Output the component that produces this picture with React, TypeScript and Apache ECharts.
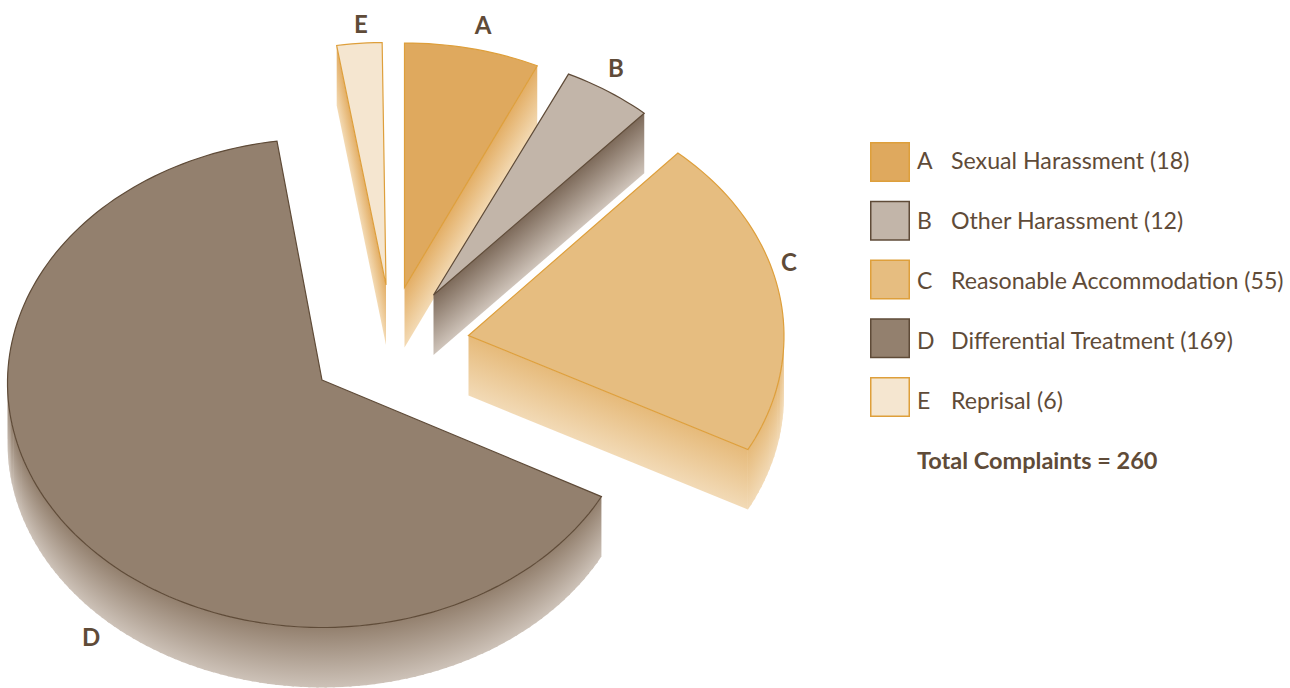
import React, { useEffect, useRef } from "react";
import * as echarts from "echarts";

const categories = ["Sexual Harassment", "Other Harassment", "Reasonable Accommodation", "Differential Treatment", "Reprisal"];
const letters = ["A", "B", "C", "D", "E"];
const values = [18, 12, 55, 169, 6];

const topColors = ["#DFA95E", "#C2B5A9", "#E6BD80", "#93806E", "#F5E6D0"];
const strokeColors = ["#DE9F3B", "#5F4B38", "#DE9F3B", "#5F4B38", "#DE9F3B"];
const wallStart = ["#E3AE65", "#7D6A5A", "#E6BA7A", "#93806E", "#E3AE65"];
const wallEnd = ["#F3DAB4", "#CFC4BA", "#F2DAB6", "#CDC2B8", "#F3DAB4"];
const sliceApexes = [[404.5, 287.5], [433.5, 295], [468.5, 335.5], [322, 380], [386, 285]];
const rimCentres = [[404.5, 287.5], [433.5, 295], [469, 336], [322.5, 383], [386, 287]];
const rimRotation = [0, 0.45, 0, 0, -0.7];
const labelPositions = [[483, 24], [616, 67], [789, 261], [91, 636], [361, 23]];

const TEXT = "#5F4B38";
const FONT = "Lato";
const RX = 315;
const RY = 244.5;
const DEPTH = 60;
const START_DEG = 0;
const total = values.reduce((a, b) => a + b, 0);

function rim(cx: number, cy: number, deg: number): number[] {
  const t = (deg * Math.PI) / 180;
  return [cx + RX * Math.sin(t), cy - RY * Math.cos(t)];
}

function wallPiece(a: number[], b: number[], from: string, to: string, next?: number[]) {
  const dx = b[0] - a[0];
  const dy = b[1] - a[1];
  const len = Math.hypot(dx, dy) || 1;
  let nx = -dy / len;
  let ny = dx / len;
  if (ny < 0) { nx = -nx; ny = -ny; }
  const g = Math.max(DEPTH * ny, 1);
  const fill = new echarts.graphic.LinearGradient(
    a[0], a[1], a[0] + nx * g, a[1] + ny * g,
    [{ offset: 0, color: from }, { offset: 1, color: to }],
    true
  );
  const e = next || b;
  return {
    type: "polygon",
    shape: { points: [a, e, [e[0], e[1] + DEPTH], [a[0], a[1] + DEPTH]] },
    style: { fill, stroke: null },
    silent: true,
  };
}

function makeRender(index: number) {
  return (_params: any, api: any) => {
    const value = api.value(0);
    const before = values.slice(0, index).reduce((a, b) => a + b, 0);
    const d1 = START_DEG + (before / total) * 360 + rimRotation[index];
    const d2 = d1 + (value / total) * 360;
    const [cx, cy] = rimCentres[index];
    const apex = sliceApexes[index];
    const steps = Math.max(2, Math.ceil((d2 - d1) / 1.5));
    const arc: number[][] = [];
    const degs: number[] = [];
    for (let i = 0; i <= steps; i++) {
      const d = d1 + ((d2 - d1) * i) / steps;
      degs.push(d);
      arc.push(rim(cx, cy, d));
    }
    const children: any[] = [];
    const from = wallStart[index];
    const to = wallEnd[index];
    const norm = (d: number) => ((d % 360) + 360) % 360;
    // straight cut faces that look towards the viewer
    if (norm(d1) > 180) children.push(wallPiece(apex, arc[0], from, to));
    if (norm(d2) < 180 && norm(d2) > 1) children.push(wallPiece(apex, arc[steps], from, to));
    // curved outer wall, lower half of the ellipse only
    for (let i = 0; i < steps; i++) {
      const mid = norm((degs[i] + degs[i + 1]) / 2);
      if (mid > 90 && mid < 270) {
        const nextPt = i + 2 <= steps ? arc[i + 2] : arc[i + 1];
        const overlap = [
          arc[i + 1][0] + (nextPt[0] - arc[i + 1][0]) * 0.3,
          arc[i + 1][1] + (nextPt[1] - arc[i + 1][1]) * 0.3,
        ];
        children.push(wallPiece(arc[i], arc[i + 1], from, to, overlap));
      }
    }
    children.push({
      type: "polygon",
      shape: { points: [apex, ...arc] },
      style: { fill: topColors[index], stroke: strokeColors[index], lineWidth: 1.2, lineJoin: "miter" },
      silent: true,
    });
    const [lx, ly] = labelPositions[index];
    children.push({
      type: "text",
      x: lx,
      y: ly,
      style: {
        text: letters[index],
        fill: TEXT,
        font: `700 24px ${FONT}`,
        align: "center",
        verticalAlign: "middle",
      },
      silent: true,
    });
    return { type: "group", children };
  };
}

const legendElements = categories.flatMap((name, i) => [
  {
    type: "rect",
    shape: { x: 870.75, y: 142.75 + 58.75 * i, width: 38.5, height: 38.5 },
    style: { fill: topColors[i], stroke: strokeColors[i], lineWidth: 1.5 },
  },
  {
    type: "text",
    x: 917,
    y: 159.5 + 60 * i,
    style: { text: letters[i], fill: TEXT, font: `400 23px ${FONT}`, verticalAlign: "middle" },
  },
  {
    type: "text",
    x: 951,
    y: 159.5 + 60 * i,
    style: { text: `${name} (${values[i]})`, fill: TEXT, font: `400 23.2px ${FONT}`, verticalAlign: "middle" },
  },
]);

export default function App() {
  const ref = useRef<HTMLDivElement>(null);
  useEffect(() => {
    document.body.style.margin = "0";
    const chart = echarts.init(ref.current!, null, { renderer: "svg" });
    chart.setOption({
      animation: false,
      backgroundColor: "#ffffff",
      graphic: [
        ...legendElements,
        {
          type: "text",
          x: 917,
          y: 459.5,
          style: {
            text: `Total Complaints = ${total}`,
            fill: TEXT,
            font: `700 23.5px ${FONT}`,
            verticalAlign: "middle",
          },
        },
      ],
      series: categories.map((name, i) => ({
        type: "custom",
        name,
        coordinateSystem: "none",
        silent: true,
        itemStyle: { color: topColors[i] },
        renderItem: makeRender(i),
        data: [[values[i]]],
      })),
    });
    return () => chart.dispose();
  }, []);
  return <div ref={ref} style={{ position: "absolute", left: 0, top: 0, width: 1290, height: 688 }} />;
}
